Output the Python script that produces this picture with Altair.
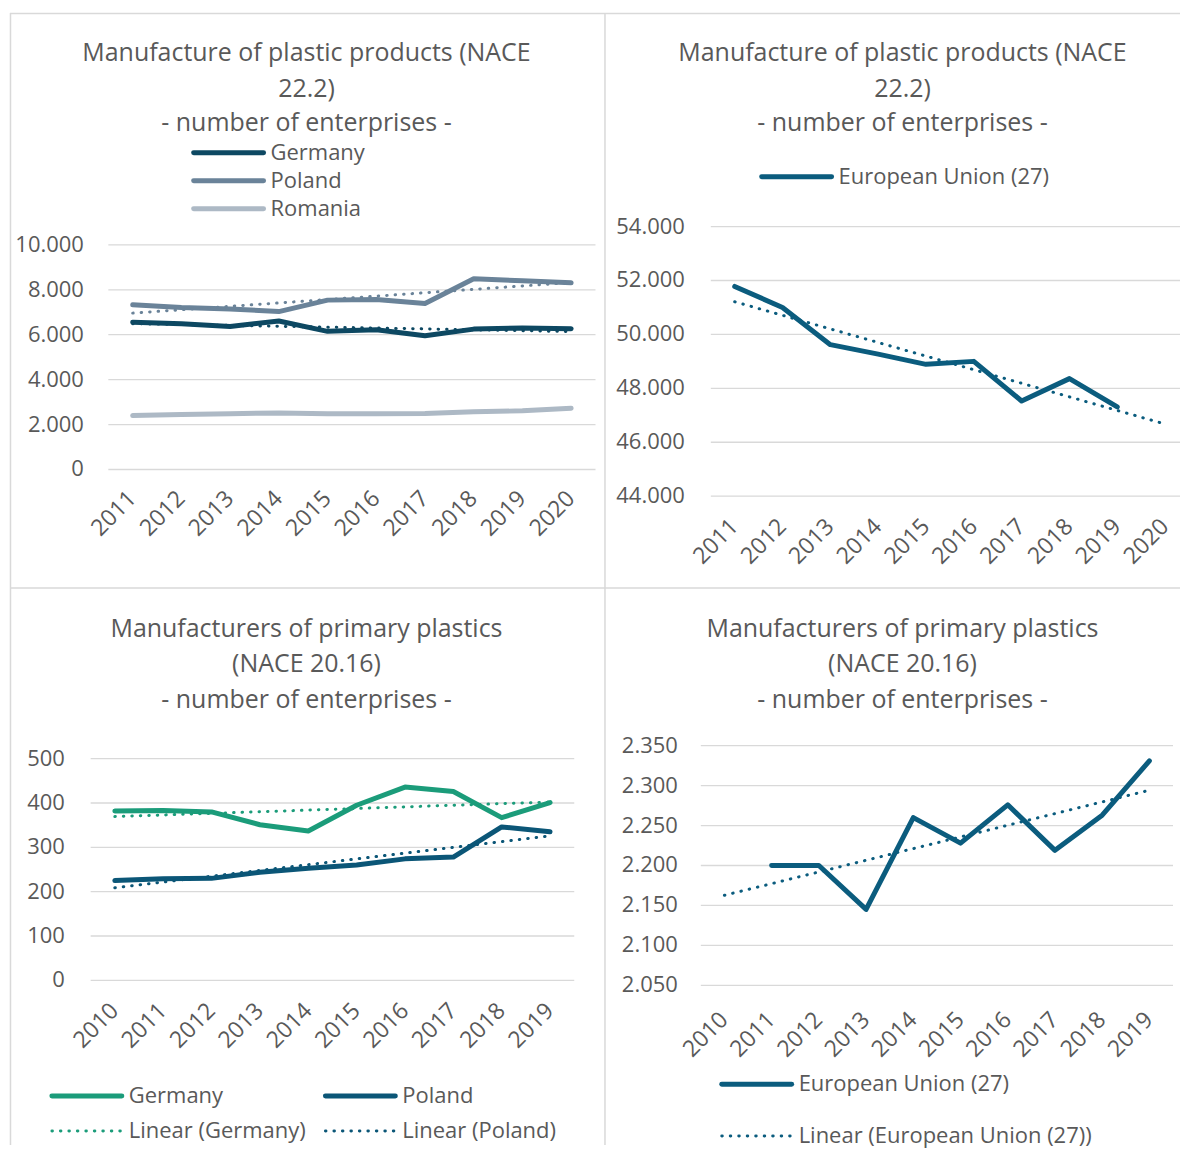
import altair as alt
import pandas as pd

# ---------------- data ----------------
years_plast = [2011, 2012, 2013, 2014, 2015, 2016, 2017, 2018, 2019, 2020]
plast_germany = [6560, 6490, 6370, 6610, 6150, 6220, 5950, 6250, 6300, 6270]
plast_poland = [7330, 7210, 7150, 7030, 7540, 7570, 7390, 8490, 8400, 8310]
plast_romania = [2400, 2450, 2480, 2520, 2480, 2480, 2490, 2570, 2610, 2730]

years_plast_eu = [2011, 2012, 2013, 2014, 2015, 2016, 2017, 2018, 2019]
plast_eu = [51780, 51000, 49620, 49270, 48890, 49000, 47530, 48360, 47310]

years_prim = [2010, 2011, 2012, 2013, 2014, 2015, 2016, 2017, 2018, 2019]
prim_germany = [382, 383, 380, 351, 337, 395, 436, 426, 367, 401]
prim_poland = [225, 229, 230, 244, 253, 260, 274, 278, 346, 335]

years_prim_eu = [2011, 2012, 2013, 2014, 2015, 2016, 2017, 2018, 2019]
prim_eu = [2200, 2200, 2145, 2260, 2228, 2276, 2219, 2263, 2331]

ticks_a = [0, 2000, 4000, 6000, 8000, 10000]
ticks_b = [44000, 46000, 48000, 50000, 52000, 54000]
ticks_c = [0, 100, 200, 300, 400, 500]
ticks_d = [2050, 2100, 2150, 2200, 2250, 2300, 2350]
axis_years_a = [2011, 2012, 2013, 2014, 2015, 2016, 2017, 2018, 2019, 2020]
axis_years_c = [2010, 2011, 2012, 2013, 2014, 2015, 2016, 2017, 2018, 2019]

title_plast = ["Manufacture of plastic products (NACE", "22.2)", "- number of enterprises -"]
title_prim = ["Manufacturers of primary plastics", "(NACE 20.16)", "- number of enterprises -"]

# ---------------- style ----------------
FONT = "Open Sans"
TXT = "#595959"
GRID = "#d9d9d9"
BORDER = "#d9d9d9"
C_DE1 = "#0d4862"
C_PL1 = "#6a8399"
C_RO1 = "#adb9c5"
C_EU = "#0b5c7e"
C_DE2 = "#1b9c7a"
C_PL2 = "#0b5677"
DOT = [0.5, 8]
TSIZE = 25
ONE = pd.DataFrame({"k": [0]})


def long(years, d):
    rows = []
    for name, vals in d.items():
        for y, v in zip(years, vals):
            rows.append({"year": y, "value": v, "series": name})
    return pd.DataFrame(rows)


def text(s, x, y, size=TSIZE, align="center"):
    return alt.Chart(ONE).mark_text(
        text=s, font=FONT, fontSize=size, color=TXT, align=align, baseline="middle"
    ).encode(x=alt.value(x), y=alt.value(y))


def hline(x1, x2, y, color, width, dash=None, cap="round"):
    kw = dict(color=color, strokeWidth=width, strokeCap=cap)
    if dash is not None:
        kw["strokeDash"] = dash
    return alt.Chart(ONE).mark_rule(**kw).encode(
        x=alt.value(x1), x2=alt.value(x2), y=alt.value(y)
    )


def vline(x, y1, y2, color, width):
    return alt.Chart(ONE).mark_rule(color=color, strokeWidth=width).encode(
        x=alt.value(x), y=alt.value(y1), y2=alt.value(y2)
    )


def legend_entry(x1, x2, y, label, color, dash=None):
    width = 3 if dash is not None else 5
    return [hline(x1, x2, y, color, width, dash), text(label, x2 + 7, y, 22, "left")]


def panel(data, xdom, xrange, ydom, yrange, yticks, gridx, ylabx, xticks,
          xlaby, cdom, crange, trend_series, trend_extent, extra, width, height):
    xs = alt.Scale(domain=xdom, range=xrange, nice=False, zero=False)
    ys = alt.Scale(domain=ydom, range=yrange, nice=False, zero=False)
    cs = alt.Scale(domain=cdom, range=crange)
    grid = alt.Chart(pd.DataFrame({"value": yticks})).mark_rule(
        color=GRID, strokeWidth=1.3
    ).encode(
        y=alt.Y("value:Q", scale=ys, axis=None),
        x=alt.value(gridx[0]), x2=alt.value(gridx[1]),
    )
    ylab = alt.Chart(pd.DataFrame({"value": yticks})).transform_calculate(
        lab="replace(format(datum.value, ','), ',', '.')"
    ).mark_text(
        font=FONT, fontSize=22, color=TXT, align="right", baseline="middle"
    ).encode(
        y=alt.Y("value:Q", scale=ys, axis=None),
        x=alt.value(ylabx),
        text=alt.Text("lab:N"),
    )
    xlab = alt.Chart(pd.DataFrame({"year": xticks})).mark_text(
        font=FONT, fontSize=23, color=TXT, align="right", baseline="middle", angle=315
    ).encode(
        x=alt.X("year:Q", scale=xs, axis=None),
        y=alt.value(xlaby),
        text=alt.Text("year:Q", format="d"),
    )
    lines = alt.Chart(data).mark_line(
        strokeWidth=5, strokeCap="round", strokeJoin="round"
    ).encode(
        x=alt.X("year:Q", scale=xs, axis=None),
        y=alt.Y("value:Q", scale=ys, axis=None),
        color=alt.Color("series:N", scale=cs, legend=None),
    )
    trend = alt.Chart(data).transform_filter(
        alt.FieldOneOfPredicate(field="series", oneOf=trend_series)
    ).transform_regression(
        "year", "value", groupby=["series"], extent=trend_extent
    ).mark_line(strokeWidth=3, strokeCap="round", strokeDash=DOT).encode(
        x=alt.X("year:Q", scale=xs, axis=None),
        y=alt.Y("value:Q", scale=ys, axis=None),
        color=alt.Color("series:N", scale=cs, legend=None),
    )
    return alt.layer(grid, ylab, xlab, lines, trend, *extra).properties(
        width=width, height=height)


# ---------- panel 1 (top-left) ----------
W1, W2, H1, H2 = 596, 576, 576, 552
borders = [
    hline(0, W1 + W2, 0.5, BORDER, 1.5, cap="butt"),
    hline(0, W1 + W2, H1, BORDER, 1.5, cap="butt"),
    vline(0.5, 0, H1 + H2 + 6, BORDER, 1.5),
    vline(W1, 0, H1 + H2 + 6, BORDER, 1.5),
]
extra1 = borders + [text(title_plast[0], 297, 40), text(title_plast[1], 297, 76),
                    text(title_plast[2], 297, 110)]
extra1 += legend_entry(184, 254, 140, "Germany", C_DE1)
extra1 += legend_entry(184, 254, 168, "Poland", C_PL1)
extra1 += legend_entry(184, 254, 196, "Romania", C_RO1)
p1 = panel(
    long(years_plast, {"Germany": plast_germany, "Poland": plast_poland,
                       "Romania": plast_romania}),
    [2010.5, 2020.5], [98.5, 586.5], [0, 10000], [457.3, 232.3], ticks_a,
    [98.5, 586.5], 74, axis_years_a, 483,
    ["Germany", "Poland", "Romania"], [C_DE1, C_PL1, C_RO1],
    ["Germany", "Poland"], [2011, 2020], extra1, W1, H1)

# ---------- panel 2 (top-right) ----------
extra2 = [text(title_plast[0], 298, 40), text(title_plast[1], 298, 76),
          text(title_plast[2], 298, 110)]
extra2 += legend_entry(157, 227, 164, "European Union (27)", C_EU)
p2 = panel(
    long(years_plast_eu, {"European Union (27)": plast_eu}),
    [2010.5, 2020.5], [106, 585], [44000, 54000], [484, 214], ticks_b,
    [106, 576], 80, axis_years_a, 511,
    ["European Union (27)"], [C_EU],
    ["European Union (27)"], [2011, 2020], extra2, W2, H1)

# ---------- panel 3 (bottom-left) ----------
extra3 = [text(title_prim[0], 297, 41), text(title_prim[1], 297, 76),
          text(title_prim[2], 297, 112)]
extra3 += legend_entry(42, 112, 509, "Germany", C_DE2)
extra3 += legend_entry(316, 386, 509, "Poland", C_PL2)
extra3 += legend_entry(42, 112, 544, "Linear (Germany)", C_DE2, DOT)
extra3 += legend_entry(316, 386, 544, "Linear (Poland)", C_PL2, DOT)
p3 = panel(
    long(years_prim, {"Germany": prim_germany, "Poland": prim_poland}),
    [2009.5, 2019.5], [80.8, 565.2], [0, 500], [393, 171], ticks_c,
    [80.8, 565.2], 55, axis_years_c, 420,
    ["Germany", "Poland"], [C_DE2, C_PL2],
    ["Germany", "Poland"], [2010, 2019], extra3, W1, H2)

# ---------- panel 4 (bottom-right) ----------
extra4 = [text(title_prim[0], 298, 41), text(title_prim[1], 298, 76),
          text(title_prim[2], 298, 112)]
extra4 += legend_entry(117, 187, 497, "European Union (27)", C_EU)
extra4 += legend_entry(117, 187, 549, "Linear (European Union (27))", C_EU, DOT)
p4 = panel(
    long(years_prim_eu, {"European Union (27)": prim_eu}),
    [2009.5, 2019.5], [96, 569], [2050, 2350], [398, 158], ticks_d,
    [96, 569], 73, axis_years_c, 429,
    ["European Union (27)"], [C_EU],
    ["European Union (27)"], [2010, 2019], extra4, W2, H2)

chart = alt.concat(p1, p2, p3, p4, columns=2, spacing=0, bounds="flush").resolve_scale(
    color="independent"
).properties(
    padding={"left": 1, "top": 3, "right": 0, "bottom": 0},
    background="white",
).configure_view(strokeWidth=0)

chart.save("out.html", embed_options={"renderer": "svg", "actions": False})
